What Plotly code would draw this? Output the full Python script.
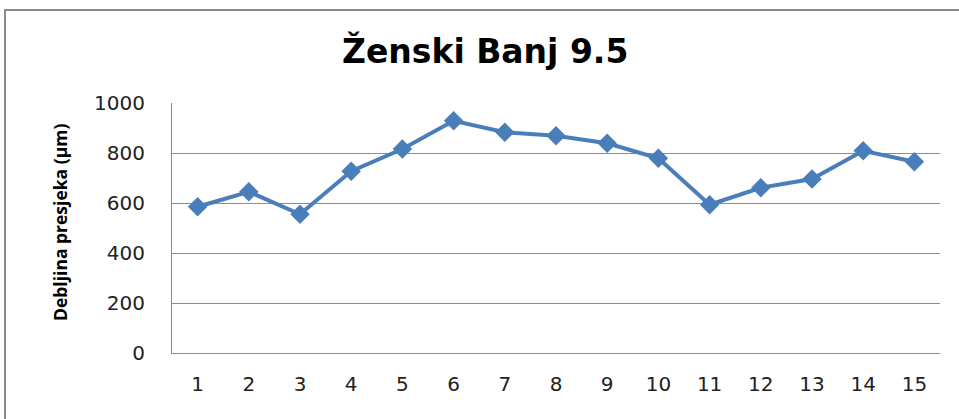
import plotly.graph_objects as go

categories = [str(i) for i in range(1, 16)]
values = [585, 645, 555, 727, 816, 929, 883, 869, 839, 779, 593, 661, 696, 809, 765]
y_ticks = [0, 200, 400, 600, 800, 1000]

title_text = "Ženski Banj 9.5"
y_title = "Debljina presjeka (µm)"

W, H = 959, 419
L, T = 172, 103
R = W - 940
B = H - 353
pw = W - L - R
ph = H - T - B

def px(x):
    return (x - L) / pw

def py(y):
    return (H - B - y) / ph

fig = go.Figure()
fig.add_trace(go.Scatter(
    x=categories, y=values, mode="lines+markers",
    line=dict(color="#4A7EBB", width=4),
    marker=dict(symbol="diamond", size=15, color="#4A7EBB"),
    showlegend=False,
))

fig.update_layout(
    width=W, height=H,
    margin=dict(l=L, r=R, t=T, b=B),
    paper_bgcolor="white", plot_bgcolor="white",
    font=dict(family="DejaVu Sans", color="#222222"),
    xaxis=dict(
        type="category", showgrid=False, showline=True, linecolor="#8C8C8C", linewidth=1,
        ticks="", tickfont=dict(family="DejaVu Sans", size=20, color="#222222"), ticklabelstandoff=13,
        range=[-0.5, 14.5],
    ),
    yaxis=dict(
        range=[0, 1000], tickvals=y_ticks, showgrid=True, gridcolor="#8C8C8C", gridwidth=1,
        showline=True, linecolor="#8C8C8C", linewidth=1, zeroline=False,
        ticks="", tickfont=dict(family="DejaVu Sans", size=20, color="#222222"), ticklabelstandoff=22,
    ),
    annotations=[
        dict(text="<b>" + title_text + "</b>", x=px(485), y=py(51), xref="paper", yref="paper",
             showarrow=False, font=dict(family="DejaVu Sans", size=33, color="#000000"),
             xanchor="center", yanchor="middle"),
        dict(text="<b>" + y_title + "</b>", x=px(60), y=py(223), xref="paper", yref="paper",
             showarrow=False, textangle=-90, font=dict(family="Open Sans", size=17.5, color="#000000"),
             xanchor="center", yanchor="middle"),
    ],
    shapes=[
        dict(type="rect", xref="paper", yref="paper", x0=px(5), y0=py(470), x1=px(1010), y1=py(10),
             line=dict(color="#8C8C8C", width=2), fillcolor="rgba(0,0,0,0)", layer="below"),
    ],
)

fig.write_html("out.html", config={"displayModeBar": False},
               post_script="document.body.style.margin='0px';document.body.style.overflow='hidden';")
